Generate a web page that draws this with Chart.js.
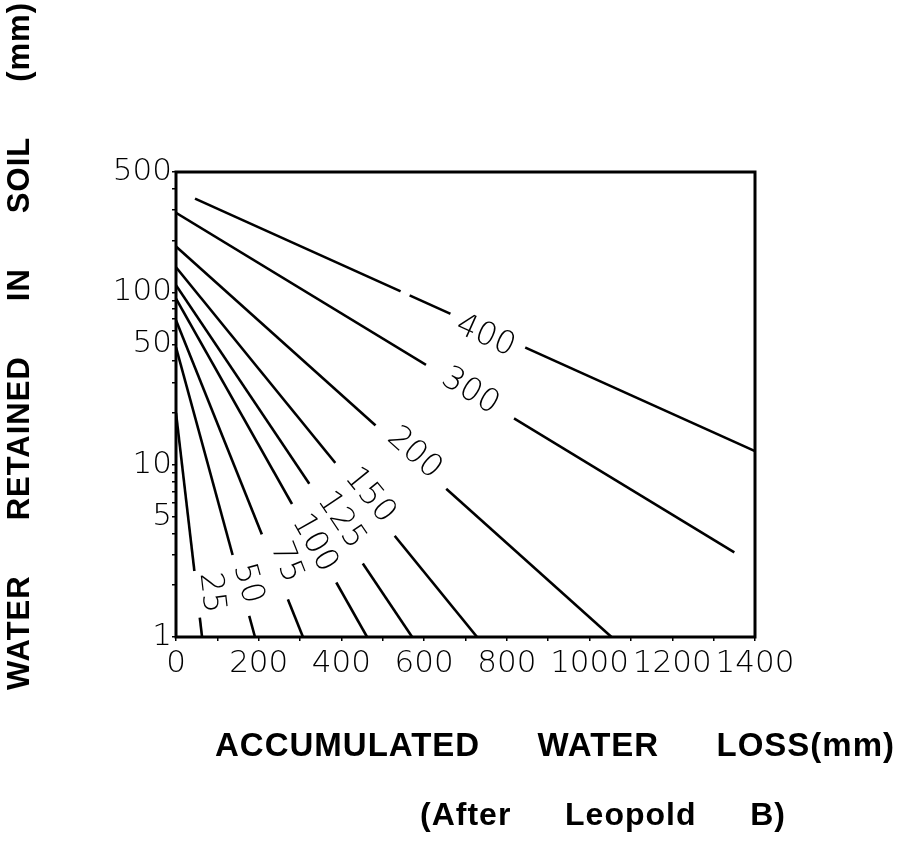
<!DOCTYPE html>
<html>
<head>
<meta charset="utf-8">
<script src="https://cdn.jsdelivr.net/npm/chart.js@4.4.0/dist/chart.umd.min.js"></script>
<style>
  html, body { margin: 0; background: #fff; }
  #wrap { position: relative; width: 906px; height: 865px; }
</style>
</head>
<body>
<div id="wrap"><canvas id="retention" aria-label="Water retained in soil chart"></canvas></div>
<script>
// soil moisture capacity of each curve (mm) - also the curve label
const capacities = [25, 50, 75, 100, 125, 150, 200, 300, 400];
// curve end points
const startLoss = [0, 0, 0, 0, 0, 0, 0, 0, 46];
const startRetained = [20, 48, 69, 92, 110, 140, 185, 290, 350];
const endLoss = [63, 191, 307, 462, 571, 728, 1053, 1350, 1400];
const endRetained = [1, 1, 1, 1, 1, 1, 1, 3.1, 12];
// curve labels: where they sit along the curve (water loss), sideways nudge, length of the break
const labelLoss = [51, 157, 239, 334, 387, 457, 568, 711, 754];
const labelShift = [-14, -7, -12, 0, -6, -6, -5, 0, 6];
const labelGap = [47, 63, 70, 90, 96, 94, 95, 103, 82];
// the 400 curve has one more little break in it
const extraBreakCurve = 8;
const extraBreakLoss = 554;
const extraBreakGap = 10;

const xTickLabels = [0, 200, 400, 600, 800, 1000, 1200, 1400];
const yTickLabels = [1, 5, 10, 50, 100, 500];

const NUM_FONT = "'DejaVu Sans', sans-serif";
const TITLE_FONT = "'Liberation Sans', Arial, sans-serif";

function curvePixels(chart, i) {
  const {x, y} = chart.scales;
  return [
    {px: x.getPixelForValue(startLoss[i]), py: y.getPixelForValue(startRetained[i])},
    {px: x.getPixelForValue(endLoss[i]), py: y.getPixelForValue(endRetained[i])},
  ];
}

// cut a break into a curve and optionally write its label in it
function drawBreak(chart, i, loss, gap, text, shift) {
  const {ctx, scales: {x}} = chart;
  const [p0, p1] = curvePixels(chart, i);
  const ax = x.getPixelForValue(loss);
  const t = (ax - p0.px) / (p1.px - p0.px);
  const ay = p0.py + t * (p1.py - p0.py);
  const angle = Math.atan2(p1.py - p0.py, p1.px - p0.px);
  ctx.save();
  ctx.translate(ax, ay);
  ctx.rotate(angle);
  ctx.fillStyle = '#fff';
  ctx.fillRect(-gap / 2, -5, gap, 10);
  if (text) {
    ctx.fillStyle = '#000';
    ctx.font = '200 32px ' + NUM_FONT;
    ctx.textAlign = 'center';
    ctx.textBaseline = 'middle';
    ctx.fillText(text, 0, shift);
  }
  ctx.restore();
}

// words spread out to a given total length, like the lettering on the figure
function spacedText(ctx, text, cx, cy, width, letter) {
  ctx.letterSpacing = letter + 'px';
  ctx.wordSpacing = '0px';
  const w = ctx.measureText(text).width;
  const gaps = text.split(' ').length - 1;
  ctx.wordSpacing = ((width - w) / gaps) + 'px';
  ctx.textAlign = 'center';
  ctx.textBaseline = 'middle';
  ctx.fillText(text, cx, cy);
  ctx.letterSpacing = '0px';
  ctx.wordSpacing = '0px';
}

const decorations = {
  id: 'decorations',
  afterDatasetsDraw(chart) {
    const {ctx, chartArea} = chart;
    capacities.forEach((c, i) => {
      drawBreak(chart, i, labelLoss[i], labelGap[i], String(c), labelShift[i]);
    });
    drawBreak(chart, extraBreakCurve, extraBreakLoss, extraBreakGap, '', 0);

    // box round the plot
    ctx.save();
    ctx.strokeStyle = '#000';
    ctx.lineWidth = 3;
    ctx.strokeRect(chartArea.left, chartArea.top, chartArea.right - chartArea.left, chartArea.bottom - chartArea.top);
    ctx.restore();
  },
  afterDraw(chart) {
    const {ctx} = chart;
    ctx.save();
    ctx.fillStyle = '#000';

    ctx.font = 'bold 31px ' + TITLE_FONT;
    ctx.save();
    ctx.translate(20, 346);
    ctx.rotate(-Math.PI / 2);
    spacedText(ctx, 'WATER RETAINED IN SOIL (mm)', 0, 0, 688, 1);
    ctx.restore();

    ctx.font = 'bold 33px ' + TITLE_FONT;
    spacedText(ctx, 'ACCUMULATED WATER LOSS(mm)', 555, 747, 680, 1);

    ctx.font = 'bold 32px ' + TITLE_FONT;
    spacedText(ctx, '(After Leopold B)', 603, 816, 366, 1);
    ctx.restore();
  }
};

const ctx = document.getElementById('retention');

new Chart(ctx, {
  type: 'scatter',
  data: {
    datasets: capacities.map((c, i) => ({
      label: String(c),
      data: [
        {x: startLoss[i], y: startRetained[i]},
        {x: endLoss[i], y: endRetained[i]},
      ],
      showLine: true,
      borderColor: '#000',
      borderWidth: 2.6,
      pointRadius: 0,
      tension: 0,
    }))
  },
  options: {
    responsive: true,
    maintainAspectRatio: false,
    animation: false,
    layout: {
      padding: {left: 0, top: 172, right: 151, bottom: 0}
    },
    plugins: {
      legend: {display: false},
      tooltip: {enabled: false},
    },
    scales: {
      x: {
        type: 'linear',
        min: 0,
        max: 1400,
        afterBuildTicks: (scale) => {
          const ticks = [];
          for (let v = 0; v <= 1400; v += 100) ticks.push({value: v});
          scale.ticks = ticks;
        },
        afterFit: (scale) => { scale.height = 228; },
        border: {display: false},
        grid: {
          drawOnChartArea: false,
          color: '#000',
          lineWidth: 1.5,
          tickLength: 4,
        },
        ticks: {
          autoSkip: false,
          maxRotation: 0,
          padding: 4,
          color: '#000',
          font: {family: NUM_FONT, size: 31, weight: 200},
          callback: (value) => xTickLabels.includes(value) ? String(value) : '',
        },
      },
      y: {
        type: 'logarithmic',
        min: 1,
        max: 500,
        afterBuildTicks: (scale) => {
          const ticks = [];
          [1, 10, 100].forEach(decade => {
            for (let m = 1; m <= 9; m++) {
              if (decade * m <= 500) ticks.push({value: decade * m});
            }
          });
          scale.ticks = ticks;
        },
        afterFit: (scale) => { scale.width = 176; },
        border: {display: false},
        grid: {
          drawOnChartArea: false,
          color: '#000',
          lineWidth: 1.5,
          tickLength: 4,
        },
        ticks: {
          autoSkip: false,
          padding: 0,
          color: '#000',
          font: {family: NUM_FONT, size: 31, weight: 200},
          callback: (value) => yTickLabels.includes(value) ? String(value) : '',
        },
      },
    },
  },
  plugins: [decorations],
});
</script>
</body>
</html>
